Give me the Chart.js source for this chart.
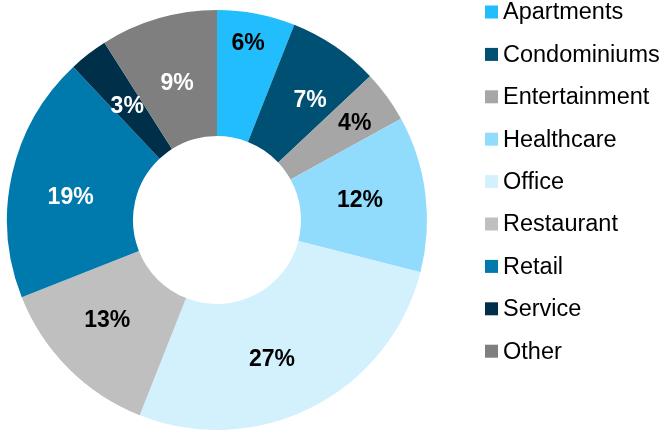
<!DOCTYPE html>
<html>
<head>
<meta charset="utf-8">
<script src="https://cdn.jsdelivr.net/npm/chart.js@4.4.1/dist/chart.umd.min.js"></script>
<style>
  html, body { margin: 0; padding: 0; background: #ffffff; }
  #wrap { width: 663px; height: 430px; position: relative; }
</style>
</head>
<body>
<div id="wrap"><canvas id="c" width="663" height="430"></canvas></div>
<script>
const categories = ["Apartments", "Condominiums", "Entertainment", "Healthcare", "Office", "Restaurant", "Retail", "Service", "Other"];
const shares = [6, 7, 4, 12, 27, 13, 19, 3, 9];
const sliceColors = ["#21BDFD", "#005073", "#A6A6A6", "#91DCFC", "#D3F0FD", "#BFBFBF", "#0079AD", "#003049", "#7F7F7F"];
const labelColors = ["#000000", "#FFFFFF", "#000000", "#000000", "#000000", "#000000", "#FFFFFF", "#FFFFFF", "#FFFFFF"];
// label placement within each slice (style only): fraction along the arc and across the ring
const labelAngleFrac = [0.46, 0.64, 0.56, 0.48, 0.556, 0.56, 0.45, 0.48, 0.5];
const labelRadiusFrac = [0.76, 0.54, 0.67, 0.48, 0.52, 0.51, 0.51, 0.49, 0.47];

const FONT = "'Liberation Sans', Arial, sans-serif";

const sliceLabels = {
  id: 'sliceLabels',
  afterDatasetsDraw(chart) {
    const ctx = chart.ctx;
    const meta = chart.getDatasetMeta(0);
    ctx.save();
    ctx.font = "bold 23px " + FONT;
    ctx.textAlign = 'center';
    ctx.textBaseline = 'middle';
    meta.data.forEach((arc, i) => {
      const p = arc.getProps(['x', 'y', 'startAngle', 'endAngle', 'innerRadius', 'outerRadius'], true);
      const a = p.startAngle + (p.endAngle - p.startAngle) * labelAngleFrac[i];
      const r = p.innerRadius + (p.outerRadius - p.innerRadius) * labelRadiusFrac[i];
      ctx.fillStyle = labelColors[i];
      ctx.fillText(chart.data.datasets[0].data[i] + '%', p.x + Math.cos(a) * r, p.y + Math.sin(a) * r + 1);
    });
    ctx.restore();
  }
};

const sideLegend = {
  id: 'sideLegend',
  afterDraw(chart) {
    const ctx = chart.ctx;
    const labels = chart.data.labels;
    const colors = chart.data.datasets[0].backgroundColor;
    ctx.save();
    ctx.font = "23.5px " + FONT;
    ctx.textAlign = 'left';
    ctx.textBaseline = 'middle';
    const x0 = 485, y0 = 12, step = 42.4, box = 13;
    labels.forEach((lab, i) => {
      const cy = y0 + i * step;
      ctx.fillStyle = colors[i];
      ctx.fillRect(x0, cy - box / 2, box, box);
      ctx.fillStyle = '#000000';
      ctx.fillText(lab, x0 + 18, cy + 1);
    });
    ctx.restore();
  }
};

new Chart(document.getElementById('c'), {
  type: 'doughnut',
  data: {
    labels: categories,
    datasets: [{
      data: shares,
      backgroundColor: sliceColors,
      borderWidth: 0
    }]
  },
  options: {
    responsive: false,
    animation: false,
    cutout: '40%',
    layout: { padding: { left: 7, right: 236, top: 10, bottom: 0 } },
    plugins: {
      legend: { display: false },
      tooltip: { enabled: false }
    }
  },
  plugins: [sliceLabels, sideLegend]
});
</script>
</body>
</html>
